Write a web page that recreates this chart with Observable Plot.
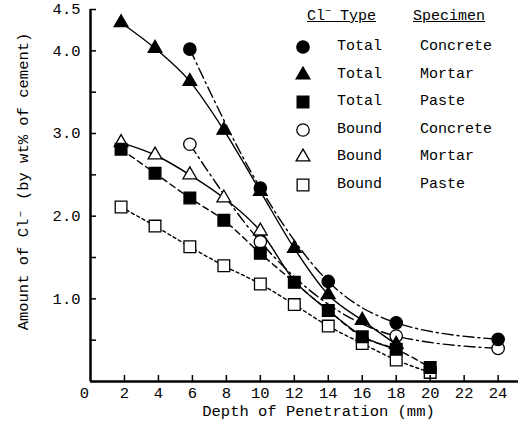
<!DOCTYPE html>
<html><head><meta charset="utf-8">
<script src="https://cdn.jsdelivr.net/npm/d3@7"></script>
<script src="https://cdn.jsdelivr.net/npm/@observablehq/plot@0.6"></script>
<style>
body{margin:0;background:#fff;}
#wrap{position:relative;width:518px;height:426px;font-family:"Liberation Mono","DejaVu Sans Mono",monospace;color:#000;}
.lg{position:absolute;font-size:15px;line-height:15px;white-space:nowrap;}
.hd{text-decoration:underline;}
</style></head><body><div id="wrap"></div>
<script>
// ---- data ----
const clType   = ["Total", "Total", "Total", "Bound", "Bound", "Bound"];
const specimen = ["Concrete", "Mortar", "Paste", "Concrete", "Mortar", "Paste"];

const totalConcreteDepth = [5.85, 10, 14, 18, 24];
const totalConcreteCl    = [4.02, 2.34, 1.21, 0.71, 0.51];
const totalMortarDepth   = [1.8, 3.8, 5.85, 7.85, 10, 12, 14, 16, 18];
const totalMortarCl      = [4.34, 4.03, 3.63, 3.04, 2.30, 1.61, 1.05, 0.74, 0.45];
const totalPasteDepth    = [1.8, 3.8, 5.85, 7.85, 10, 12, 14, 16, 18, 20];
const totalPasteCl       = [2.81, 2.52, 2.22, 1.95, 1.55, 1.20, 0.86, 0.54, 0.39, 0.17];
const boundConcreteDepth = [5.85, 10, 18, 24];
const boundConcreteCl    = [2.87, 1.69, 0.55, 0.40];
const boundMortarDepth   = [1.8, 3.8, 5.85, 7.85, 10, 12, 14, 16, 18];
const boundMortarCl      = [2.89, 2.74, 2.50, 2.22, 1.82, 1.22, 0.86, 0.55, 0.39];
const boundPasteDepth    = [1.8, 3.8, 5.85, 7.85, 10, 12, 14, 16, 18, 20];
const boundPasteCl       = [2.11, 1.88, 1.63, 1.40, 1.18, 0.93, 0.67, 0.46, 0.26, 0.11];
// markers of the bound-mortar curve beyond this depth are hidden under other symbols
const boundMortarLastVisible = 10;

const xTickLabels = [2, 4, 6, 8, 10, 12, 14, 16, 18, 20, 22, 24];
const yTickLabels = [1.0, 2.0, 3.0, 4.0, 4.5];
const yTickMarks  = [0.5, 1.0, 1.5, 2.0, 2.5, 3.0, 3.5, 4.0, 4.5];
const xTitle = "Depth of Penetration (mm)";
const yTitle = "Amount of Cl⁻ (by wt% of cement)";

// ---- build tables ----
const depths = [totalConcreteDepth, totalMortarDepth, totalPasteDepth, boundConcreteDepth, boundMortarDepth, boundPasteDepth];
const values = [totalConcreteCl, totalMortarCl, totalPasteCl, boundConcreteCl, boundMortarCl, boundPasteCl];
const tables = depths.map((xs, i) => xs.map((x, j) => ({series: i, depth: x, cl: values[i][j]})));

// ---- styles ----
const symbols = ["circle", "triangle", "square", "circle", "triangle", "square"];
const fills   = ["black", "black", "black", "white", "white", "white"];
const radii   = [6.2, 5.1, 6.6, 6.2, 5.1, 6.6];
const dashes  = ["11,4,2,4", null, "6,4", "11,4,2,4", null, "3,3"];

const W = 518, H = 426, mL = 90, mR = 0, mT = 9, mB = 45;
const frameW = W - mL - mR, frameH = H - mT - mB;
const FS = 15.5;

const marks = [];
tables.forEach((t, i) => {
  marks.push(Plot.line(t, {x: "depth", y: "cl", stroke: "black", strokeWidth: 1.4,
    curve: "monotone-x", strokeDasharray: dashes[i] || undefined}));
});
[3, 4, 5, 0, 1, 2].forEach(i => {
  const data = i === 4 ? tables[i].filter(d => d.depth <= boundMortarLastVisible) : tables[i];
  marks.push(Plot.dot(data, {x: "depth", y: "cl", symbol: symbols[i], r: radii[i],
    fill: fills[i], stroke: "black", strokeWidth: 1.3}));
});
marks.push(
  Plot.tickX(xTickLabels, {x: d => d, insetTop: frameH - 6, strokeWidth: 1.5}),
  Plot.tickY(yTickMarks, {y: d => d, insetRight: frameW - 6, strokeWidth: 1.5}),
  Plot.ruleX([0], {strokeWidth: 2.5}),
  Plot.ruleY([0], {strokeWidth: 2.5}),
  Plot.text(xTickLabels, {x: d => d, frameAnchor: "bottom", lineAnchor: "middle", dy: 11.5, text: d => String(d), fontSize: FS}),
  Plot.text([0], {x: d => d, frameAnchor: "bottom", lineAnchor: "middle", dy: 11.5, dx: -6, text: d => String(d), fontSize: FS}),
  Plot.text(yTickLabels, {y: d => d, frameAnchor: "left", textAnchor: "end", lineAnchor: "middle", dx: -10, text: d => d3.format(".1f")(d), fontSize: FS}),
  Plot.text([xTitle], {frameAnchor: "bottom", textAnchor: "middle", lineAnchor: "middle", dx: 14, dy: 30, text: d => d, fontSize: FS}),
  Plot.text([yTitle], {frameAnchor: "left", textAnchor: "middle", lineAnchor: "middle", rotate: -90, dx: -67, dy: -14, text: d => d, fontSize: FS})
);

const chart = Plot.plot({
  width: W, height: H,
  marginLeft: mL, marginRight: mR, marginTop: mT, marginBottom: mB,
  style: {fontFamily: '"Liberation Mono","DejaVu Sans Mono",monospace', fontSize: FS + "px", background: "white", color: "black"},
  x: {domain: [0, 25.2], axis: null},
  y: {domain: [0, 4.5], axis: null},
  marks
});
const wrap = document.getElementById("wrap");
wrap.appendChild(chart);

// ---- legend overlay ----
function addText(txt, left, cy, cls) {
  const d = document.createElement("div");
  d.className = "lg" + (cls ? " " + cls : "");
  d.innerHTML = txt;
  d.style.left = left + "px";
  d.style.top = (cy - 8) + "px";
  wrap.appendChild(d);
}
addText("Cl<sup style='font-size:10px;line-height:0'>−</sup> Type", 307, 17, "hd");
addText("Specimen", 413, 17, "hd");
const rowY = [47, 74.5, 102, 129.5, 157, 184.5];
const symMap = {circle: d3.symbolCircle, triangle: d3.symbolTriangle, square: d3.symbolSquare};
clType.forEach((c, i) => {
  const y = rowY[i];
  const svg = d3.create("svg").attr("width", 20).attr("height", 20)
    .style("position", "absolute").style("left", (303 - 10) + "px").style("top", (y - 10) + "px");
  svg.append("path").attr("transform", "translate(10,10)")
    .attr("d", d3.symbol(symMap[symbols[i]], radii[i] * radii[i] * Math.PI)())
    .attr("fill", fills[i]).attr("stroke", "black").attr("stroke-width", 1.3);
  wrap.appendChild(svg.node());
  addText(c, 337, y);
  addText(specimen[i], 420, y);
});
</script></body></html>
